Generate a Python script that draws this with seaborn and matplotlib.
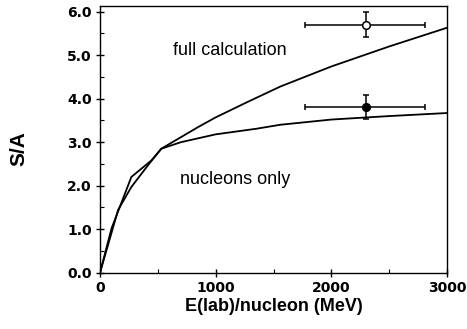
import matplotlib
matplotlib.use("Agg")
import matplotlib.pyplot as plt
import seaborn as sns
import pandas as pd
from matplotlib.ticker import MultipleLocator, FormatStrFormatter

# Data
full_x = [0, 100, 156, 271, 415, 530, 850, 1000, 1280, 1560, 2000, 2500, 3000]
full_y = [0, 0.92, 1.44, 1.97, 2.47, 2.85, 3.35, 3.57, 3.93, 4.28, 4.74, 5.2, 5.63]
nuc_x = [0, 100, 271, 444, 530, 700, 1000, 1355, 1557, 2000, 2500, 3000]
nuc_y = [0, 1.02, 2.2, 2.58, 2.85, 3.0, 3.18, 3.31, 3.4, 3.52, 3.6, 3.67]

pt_x = [2300, 2300]
pt_y = [5.70, 3.81]
pt_xerr_lo = [530, 530]
pt_xerr_hi = [510, 510]
pt_yerr = [0.29, 0.28]
pt_filled = [False, True]

labels = ["full calculation", "nucleons only"]
label_x = [630, 690]
label_y = [5.1, 2.15]

sns.set_theme(style="ticks")
plt.rcParams['font.family'] = ['Liberation Sans', 'DejaVu Sans']
plt.rcParams['text.color'] = 'black'
plt.rcParams['axes.labelcolor'] = 'black'

fig = plt.figure(figsize=(4.67, 3.29), dpi=100)
ax = fig.add_axes([100/467, 1 - 272.7/329, 347/467, 266.7/329])

df = pd.concat([
    pd.DataFrame({"E": full_x, "S": full_y, "curve": "full"}),
    pd.DataFrame({"E": nuc_x, "S": nuc_y, "curve": "nucleons"}),
])
sns.lineplot(data=df, x="E", y="S", units="curve", estimator=None,
             color="black", lw=1.3, ax=ax, sort=False)

for x, y, xl, xh, ye, f in zip(pt_x, pt_y, pt_xerr_lo, pt_xerr_hi, pt_yerr, pt_filled):
    ax.errorbar([x], [y], xerr=[[xl], [xh]], yerr=[[ye], [ye]], fmt='o',
                ms=5.5, mfc='black' if f else 'white', mec='black', mew=1.1,
                ecolor='black', elinewidth=1.1, capsize=2.5, capthick=1.1, zorder=5)

for t, x, y in zip(labels, label_x, label_y):
    ax.text(x, y, t, fontsize=13, ha='left', va='center', color='black')

ax.set_xlim(0, 3000)
ax.set_ylim(0, 6.13)
ax.xaxis.set_major_locator(MultipleLocator(1000))
ax.xaxis.set_minor_locator(MultipleLocator(500))
ax.yaxis.set_major_locator(MultipleLocator(1))
ax.yaxis.set_minor_locator(MultipleLocator(0.5))
ax.yaxis.set_major_formatter(FormatStrFormatter('%.1f'))

for s in ax.spines.values():
    s.set_visible(True)
    s.set_linewidth(1.0)
    s.set_color('black')

ax.tick_params(which='major', direction='inout', length=6, width=1.0, labelsize=10, colors='black', pad=3)
ax.tick_params(which='minor', direction='in', length=3, width=0.8, colors='black')
for lab in ax.get_xticklabels() + ax.get_yticklabels():
    lab.set_fontweight('bold')
    lab.set_family('DejaVu Sans')

ax.set_xlabel("E(lab)/nucleon (MeV)", fontsize=13, fontweight='bold', labelpad=2, color='black')
ax.set_ylabel("S/A", fontsize=15, fontweight='bold', color='black')
ax.yaxis.set_label_coords(-72/347, (272.7-148.5)/266.7)

fig.savefig("out.png", dpi=100)
